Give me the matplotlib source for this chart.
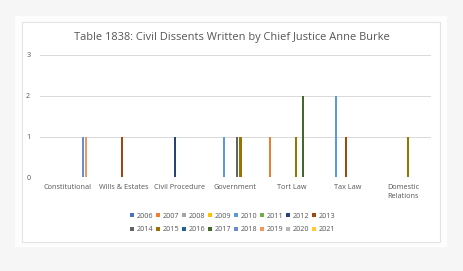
import matplotlib
matplotlib.use("Agg")
import matplotlib.pyplot as plt
from matplotlib.patches import Rectangle
import numpy as np

categories = ["Constitutional", "Wills & Estates", "Civil Procedure", "Government",
              "Tort Law", "Tax Law", "Domestic\nRelations"]
years = ["2006", "2007", "2008", "2009", "2010", "2011", "2012", "2013",
         "2014", "2015", "2016", "2017", "2018", "2019", "2020", "2021"]
# values[year] across categories (Const, Wills, CivProc, Gov, Tort, Tax, Domestic)
values = {
    "2006": [0, 0, 0, 0, 0, 0, 0],
    "2007": [0, 0, 0, 0, 1, 0, 0],
    "2008": [0, 0, 0, 0, 0, 0, 0],
    "2009": [0, 0, 0, 0, 0, 0, 0],
    "2010": [0, 0, 0, 1, 0, 2, 0],
    "2011": [0, 0, 0, 0, 0, 0, 0],
    "2012": [0, 0, 1, 0, 0, 0, 0],
    "2013": [0, 1, 0, 0, 0, 1, 0],
    "2014": [0, 0, 0, 1, 0, 0, 0],
    "2015": [0, 0, 0, 1, 1, 0, 1],
    "2016": [0, 0, 0, 0, 0, 0, 0],
    "2017": [0, 0, 0, 0, 2, 0, 0],
    "2018": [1, 0, 0, 0, 0, 0, 0],
    "2019": [1, 0, 0, 0, 0, 0, 0],
    "2020": [0, 0, 0, 0, 0, 0, 0],
    "2021": [0, 0, 0, 0, 0, 0, 0],
}
colors = ["#4472C4", "#ED7D31", "#A5A5A5", "#FFC000", "#5B9BD5", "#70AD47",
          "#264478", "#9E480E", "#636363", "#997300", "#255E91", "#43682B",
          "#698ED0", "#F1975A", "#B7B7B7", "#FFCD33"]
yticks = [0, 1, 2, 3]
title = "Table 1838: Civil Dissents Written by Chief Justice Anne Burke"

W, H = 464, 271
fig = plt.figure(figsize=(W / 100, H / 100), dpi=100)
fig.patch.set_facecolor("#f6f6f6")

def px(x0, y0, x1, y1):
    return [x0 / W, 1 - y1 / H, (x1 - x0) / W, (y1 - y0) / H]

# white card and chart border
b = px(15, 16, 447, 247)
fig.patches.append(Rectangle((b[0], b[1]), b[2], b[3], transform=fig.transFigure,
                             facecolor="#fdfdfd", edgecolor="none", zorder=-3))
b = px(22, 22, 440.5, 242)
fig.patches.append(Rectangle((b[0], b[1]), b[2], b[3], transform=fig.transFigure,
                             facecolor="white", edgecolor="#e3e3e3", lw=0.8, zorder=-2))

ax = fig.add_axes(px(40, 55, 431, 177.3))
ax.set_facecolor("none")
n = len(years)
step = 0.059
bw = 0.038
x = np.arange(len(categories))
for j, yr in enumerate(years):
    ax.bar(x + (j - (n - 1) / 2) * step, values[yr], width=bw, color=colors[j],
           label=yr, zorder=3)

fs = 5.2
ax.set_xlim(-0.5, len(categories) - 0.5)
ax.set_ylim(0, 3)
ax.set_yticks(yticks)
ax.set_xticks(x)
ax.set_xticklabels(categories, fontsize=fs, color="#555555", family="Open Sans",
                   linespacing=1.3)
ax.set_yticklabels([str(t) for t in yticks], fontsize=fs, color="#555555",
                   family="Open Sans")
ax.tick_params(length=0, pad=7)
ax.tick_params(axis="x", pad=5)
for s in ax.spines.values():
    s.set_visible(False)
ax.grid(axis="y", color="#d9d9d9", lw=0.7, zorder=0)

fig.text(232 / W, 1 - 37.5 / H, title, ha="center", va="center", fontsize=7.9,
         color="#555555", family="Open Sans")

handles, labels = ax.get_legend_handles_labels()
order = []
for c in range(8):
    order += [c, c + 8]
leg = fig.legend([handles[i] for i in order], [labels[i] for i in order],
                 loc="center", bbox_to_anchor=(232.5 / W, 1 - 223 / H), ncol=8,
                 frameon=False, handlelength=0.6, handleheight=0.6,
                 handletextpad=0.3, columnspacing=0.4, labelspacing=0.95,
                 prop={"family": "Open Sans", "size": fs})
for t in leg.get_texts():
    t.set_color("#555555")

fig.savefig("out.png", dpi=100, facecolor=fig.get_facecolor())
